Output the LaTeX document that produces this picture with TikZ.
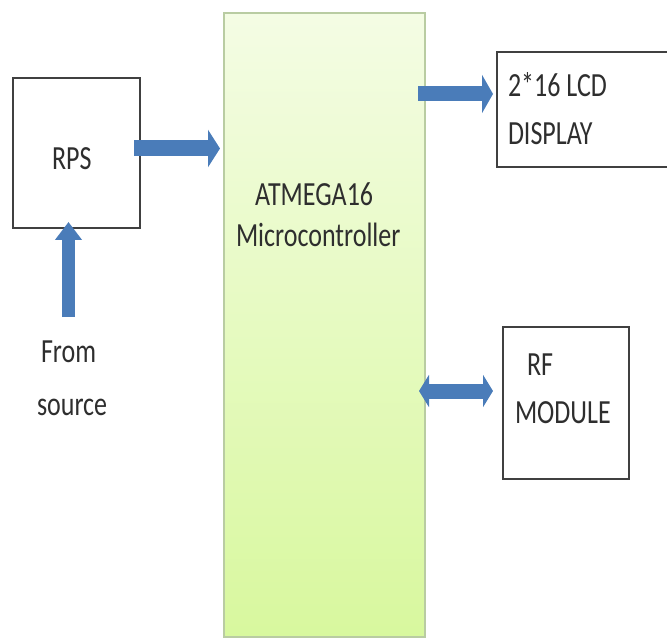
\documentclass[tikz,border=0pt]{standalone}
\usepackage{fontspec}
\usepackage{graphicx}
\setmainfont{Carlito}
\usetikzlibrary{arrows.meta}
\definecolor{arrblue}{HTML}{4A7CB9}
\definecolor{boxline}{HTML}{404040}
\definecolor{mcutop}{HTML}{F4FCE4}
\definecolor{mcubot}{HTML}{D8F89E}
\definecolor{mculine}{HTML}{B9CCA2}
\definecolor{txtcol}{HTML}{2E2E2E}
\newcommand\stxt[1]{\scalebox{1}[1.3]{#1}}
\tikzset{
  blockbox/.style={draw=boxline, line width=1.8pt, fill=white, rectangle, inner sep=0pt, outer sep=0pt},
  lbl/.style={inner sep=0pt, outer sep=0pt, anchor=base west, text=txtcol, font=\fontsize{26}{30}\selectfont},
  barrow/.style={draw=arrblue, line width=16pt},
}
\begin{document}
\begin{tikzpicture}[x=1pt,y=-1pt]
\useasboundingbox (0,0) rectangle (667,639);
% boxes
\node[rectangle, draw=mculine, line width=1.5pt, top color=mcutop, bottom color=mcubot, minimum width=201pt, minimum height=624pt, inner sep=0pt, outer sep=0pt] (mcu) at (324.5,325) {};
\node[blockbox, minimum width=127pt, minimum height=150pt] (rps) at (76.5,153) {};
\node[blockbox, minimum width=175pt, minimum height=115pt] (lcd) at (584.5,109.5) {};
\node[blockbox, minimum width=126pt, minimum height=152pt] (rf) at (566,403) {};
% labels
\node[lbl] (rpst) at (52,170) {\stxt{RPS}};
\node[lbl] (mcut1) at (255,206) {\stxt{ATMEGA16}};
\node[lbl] (mcut2) at (236,247) {\stxt{Microcontroller}};
\node[lbl] (src1) at (41,362) {\stxt{From}};
\node[lbl] (src2) at (37,415) {\stxt{source}};
\node[lbl] (lcdt1) at (508,97) {\stxt{2*16 LCD}};
\node[lbl] (lcdt2) at (508,145) {\stxt{DISPLAY}};
\node[lbl] (rft1) at (527,375) {\stxt{RF}};
\node[lbl] (rft2) at (515,423) {\stxt{MODULE}};
% connectors
\path ([shift={(-6,-4.5)}]rps.east) coordinate (s1);
\draw[barrow, -{Triangle[length=12pt,width=37pt]}, shorten >=4pt] (s1) -- (s1 -| mcu.west);
\coordinate (srcpt) at (68.5,317);
\draw[barrow, line width=13pt, -{Triangle[length=18pt,width=26pt]}, shorten >=-6pt] (srcpt) -- (srcpt |- rps.south);
\path ([shift={(-7,-15.5)}]mcu.east |- lcd.west) coordinate (s2);
\draw[barrow, line width=15pt, -{Triangle[length=11pt,width=38pt]}, shorten >=4pt] (s2) -- (s2 -| lcd.west);
\path ([shift={(-6,-12)}]mcu.east |- rf.west) coordinate (s3);
\draw[barrow, line width=15pt, {Triangle[length=10pt,width=32pt]}-{Triangle[length=10pt,width=32pt]}, shorten >=10pt] (s3) -- (s3 -| rf.west);
\end{tikzpicture}
\end{document}
